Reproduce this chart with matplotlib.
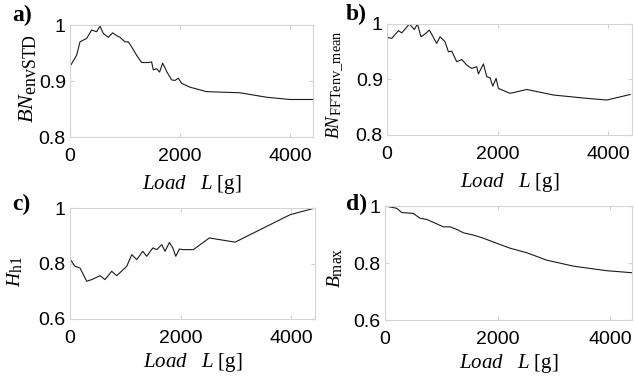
import numpy as np
import matplotlib
matplotlib.use('Agg')
import matplotlib.pyplot as plt
import matplotlib._mathtext as mt

# subscripts in the original are relatively large
mt.SHRINK_FACTOR = 0.8

plt.rcParams['font.family'] = ['Liberation Sans', 'DejaVu Sans']
plt.rcParams['mathtext.fontset'] = 'custom'
plt.rcParams['mathtext.rm'] = 'Liberation Serif'
plt.rcParams['mathtext.it'] = 'Liberation Serif:italic'
plt.rcParams['mathtext.bf'] = 'Liberation Serif:bold'

# a) BN_envSTD
load_a = [0, 121, 182, 303, 394, 485, 545, 606, 697, 776, 848, 909, 1000, 1061, 1121,
          1212, 1303, 1424, 1485, 1515, 1576, 1630, 1685, 1758, 1848, 1909, 1970, 2030,
          2182, 2485, 3091, 3576, 4000, 4424]
bn_env = [0.926, 0.946, 0.970, 0.976, 0.991, 0.988, 0.998, 0.985, 0.978, 0.986, 0.981,
          0.978, 0.970, 0.970, 0.961, 0.946, 0.933, 0.933, 0.934, 0.920, 0.922, 0.916,
          0.932, 0.917, 0.902, 0.901, 0.905, 0.896, 0.889, 0.881, 0.879, 0.871, 0.867, 0.867]

# b) BN_FFTenv_mean
load_b = [0, 87, 207, 267, 405, 495, 550, 615, 688, 766, 899, 959, 1050, 1110, 1171,
          1261, 1352, 1442, 1533, 1623, 1653, 1744, 1804, 1864, 1913, 1973, 2014, 2226,
          2528, 3011, 3615, 3977, 4398]
bn_fft = [0.976, 0.974, 0.988, 0.984, 1.0, 0.990, 1.0, 0.977, 0.982, 0.989, 0.965, 0.977,
          0.968, 0.950, 0.951, 0.932, 0.936, 0.926, 0.920, 0.923, 0.910, 0.928, 0.905,
          0.903, 0.888, 0.902, 0.884, 0.875, 0.882, 0.872, 0.866, 0.863, 0.873]

# c) H_h1
load_c = [0, 90, 181, 302, 392, 543, 633, 754, 845, 1026, 1117, 1207, 1316, 1388, 1497,
          1569, 1660, 1719, 1798, 1859, 1913, 1978, 2050, 2231, 2520, 2986, 3982, 4434]
h_h1 = [0.816, 0.790, 0.784, 0.736, 0.742, 0.756, 0.742, 0.772, 0.756, 0.790, 0.832,
        0.814, 0.844, 0.826, 0.856, 0.850, 0.868, 0.844, 0.876, 0.856, 0.826, 0.852,
        0.850, 0.850, 0.892, 0.877, 0.976, 1.0]

# d) B_max
load_d = [0, 208, 297, 503, 622, 741, 1036, 1156, 1274, 1393, 1570, 1748, 2015, 2222,
          2519, 2874, 3348, 3941, 4385]
b_max = [1.0, 0.992, 0.977, 0.974, 0.957, 0.953, 0.927, 0.927, 0.918, 0.906, 0.898,
         0.887, 0.867, 0.852, 0.836, 0.810, 0.789, 0.773, 0.766]

panels = [
    ('a)', load_a, bn_env, r'$\mathit{BN}_{\mathrm{envSTD}}$', (0.8, 1.0), [0.8, 0.9, 1.0], ['0.8', '0.9', '1'], 4420),
    ('b)', load_b, bn_fft, r'$\mathit{BN}_{\mathrm{FFTenv\_mean}}$', (0.8, 1.0), [0.8, 0.9, 1.0], ['0.8', '0.9', '1'], 4430),
    ('c)', load_c, h_h1, r'$\mathit{H}_{\mathrm{h1}}$', (0.6, 1.0), [0.6, 0.8, 1.0], ['0.6', '0.8', '1'], 4430),
    ('d)', load_d, b_max, r'$\mathit{B}_{\mathrm{max}}$', (0.6, 1.0), [0.6, 0.8, 1.0], ['0.6', '0.8', '1'], 4390),
]
rects = [
    [0.1104, 0.6356, 0.3833, 0.2979],
    [0.6104, 0.6410, 0.3864, 0.2952],
    [0.1104, 0.1516, 0.3864, 0.2952],
    [0.6073, 0.1489, 0.3896, 0.3032],
]
letter_pos = [(0.020, 0.958), (0.546, 0.962), (0.020, 0.455), (0.545, 0.455)]
ylab_size = [16, 13, 14, 14]
ylab_xy = [(-0.132, 0.52), (-0.167, 0.45), (-0.184, 0.43), (-0.162, 0.456)]
xlab_pad = [6, 6, 3, 3]

fig = plt.figure(figsize=(6.34, 3.76), dpi=100)
for i, ((lab, x, y, ylab, ylim, yt, ytl, xmax), r, lp) in enumerate(zip(panels, rects, letter_pos)):
    ax = fig.add_axes(r)
    ax.plot(x, y, color='#1a1a1a', lw=0.8)
    ax.set_xlim(0, xmax)
    ax.set_ylim(*ylim)
    ax.set_xticks([0, 2000, 4000])
    ax.set_yticks(yt)
    ax.set_yticklabels(ytl)
    for s in ax.spines.values():
        s.set_color('#d4d4d4')
        s.set_linewidth(0.8)
    ax.tick_params(direction='in', length=3, color='#d4d4d4', labelsize=14,
                   top=True, right=True)
    ax.tick_params(axis='x', pad=8)
    ax.tick_params(axis='y', pad=3)
    ax.set_xlabel(r'$\mathit{Load}\ \ \ \mathit{L}\ \mathrm{[g]}$', fontsize=15, labelpad=xlab_pad[i])
    ax.set_ylabel(ylab, fontsize=ylab_size[i])
    ax.yaxis.set_label_coords(*ylab_xy[i])
    fig.text(lp[0], lp[1], lab, fontsize=17, fontweight='bold', family='Liberation Serif',
             ha='left', va='center')

fig.savefig('out.png', dpi=100)
